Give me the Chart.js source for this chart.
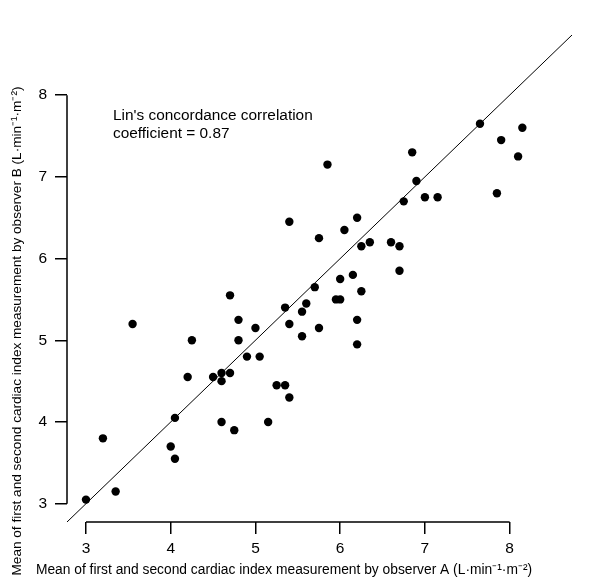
<!DOCTYPE html>
<html lang="en">
<head>
  <meta charset="UTF-8">
  <title>Cardiac index: observer A vs observer B</title>
  <script src="https://cdn.jsdelivr.net/npm/chart.js"></script>
  <style>
    body { margin: 0; background: #fff; }
    canvas { display: block; }
  </style>
</head>
<body>
  <canvas id="grafico" width="608" height="581"></canvas>
  <script>
    // mean cardiac index per patient, observer A (x) and observer B (y)
    const observerA = [3.00, 3.35, 3.20, 3.55, 4.00, 4.05, 4.05, 4.20, 4.25, 4.50,
      4.60, 4.60, 4.60, 4.70, 4.75, 4.70, 4.80, 4.80, 4.90, 5.05,
      5.00, 5.15, 5.25, 5.35, 5.40, 5.35, 5.40, 5.55, 5.55, 5.60,
      5.75, 5.70, 5.95, 6.00, 6.00, 6.15, 6.25, 6.20, 6.20, 5.75,
      5.40, 5.85, 6.05, 6.20, 6.25, 6.35, 6.60, 6.70, 6.70, 6.75,
      6.90, 6.85, 7.00, 7.15, 7.65, 7.85, 7.90, 8.10, 8.15];
    const observerB = [3.05, 3.15, 3.80, 5.20, 3.70, 3.55, 4.05, 4.55, 5.00, 4.55,
      4.60, 4.50, 4.00, 4.60, 3.90, 5.55, 5.25, 5.00, 4.80, 4.80,
      5.15, 4.00, 4.45, 4.45, 4.30, 5.40, 5.20, 5.35, 5.05, 5.45,
      5.15, 5.65, 5.50, 5.50, 5.75, 5.80, 5.60, 5.25, 4.95, 6.25,
      6.45, 7.15, 6.35, 6.50, 6.15, 6.20, 6.20, 6.15, 5.85, 6.70,
      6.95, 7.30, 6.75, 6.75, 7.65, 6.80, 7.45, 7.25, 7.60];
    const tickValues = [3, 4, 5, 6, 7, 8];
    const axisMin = 2.776;
    const axisMax = 8.736;
    const noteLines = ["Lin's concordance correlation", "coefficient = 0.87"];
    const xTitle = 'Mean of first and second cardiac index measurement by observer A (L·min⁻¹·m⁻²)';
    const yTitle = 'Mean of first and second cardiac index measurement by observer B (L·min⁻¹·m⁻²)';

    const fuente = '"Liberation Sans", Arial, sans-serif';

    const puntos = observerA.map((a, i) => ({ x: a, y: observerB[i] }));
    const identidad = [axisMin, axisMax].map(v => ({ x: v, y: v }));

    // R-style axes: line only from first to last tick, plus titles and note
    const ejesR = {
      id: 'ejesR',
      afterDraw(chart) {
        const { ctx, chartArea, scales } = chart;
        const x = scales.x, y = scales.y;
        const t0 = tickValues[0], t1 = tickValues[tickValues.length - 1];
        ctx.save();
        ctx.strokeStyle = '#000';
        ctx.lineWidth = 1.5;
        ctx.beginPath();
        ctx.moveTo(x.getPixelForValue(t0), chartArea.bottom);
        ctx.lineTo(x.getPixelForValue(t1), chartArea.bottom);
        ctx.moveTo(chartArea.left, y.getPixelForValue(t0));
        ctx.lineTo(chartArea.left, y.getPixelForValue(t1));
        ctx.stroke();

        ctx.fillStyle = '#000';
        ctx.textBaseline = 'middle';
        ctx.textAlign = 'left';
        ctx.font = '15.4px ' + fuente;
        noteLines.forEach((txt, i) => ctx.fillText(txt, 113, 116 + i * 18));

        ctx.textAlign = 'center';
        ctx.font = '13.8px ' + fuente;
        ctx.fillText(xTitle, 284, 570);
        ctx.font = '13.6px ' + fuente;
        ctx.translate(17, 331);
        ctx.rotate(-Math.PI / 2);
        ctx.fillText(yTitle, 0, 0);
        ctx.restore();
      }
    };

    const ejeComun = {
      type: 'linear',
      min: axisMin,
      max: axisMax,
      afterBuildTicks: s => { s.ticks = tickValues.map(v => ({ value: v })); },
      border: { display: false },
      grid: {
        drawOnChartArea: false,
        drawTicks: true,
        tickLength: 12,
        color: '#000',
        lineWidth: 1.5
      },
      ticks: {
        color: '#000',
        font: { family: fuente, size: 15.5 },
        maxRotation: 0
      }
    };

    new Chart(document.getElementById('grafico'), {
      data: {
        datasets: [
          {
            type: 'scatter',
            data: puntos,
            backgroundColor: '#000',
            borderWidth: 0,
            pointRadius: 4.2,
            pointHoverRadius: 4.2
          },
          {
            type: 'line',
            data: identidad,
            borderColor: '#000',
            borderWidth: 1,
            pointRadius: 0,
            fill: false
          }
        ]
      },
      options: {
        responsive: false,
        animation: false,
        layout: { padding: { top: 35, right: 36, left: 0, bottom: 0 } },
        plugins: {
          legend: { display: false },
          tooltip: { enabled: false }
        },
        scales: {
          x: Object.assign({}, ejeComun, {
            position: 'bottom',
            afterFit: s => { s.height = 59; },
            ticks: Object.assign({}, ejeComun.ticks, { padding: 5 })
          }),
          y: Object.assign({}, ejeComun, {
            position: 'left',
            afterFit: s => { s.width = 67; },
            ticks: Object.assign({}, ejeComun.ticks, { padding: 8 })
          })
        }
      },
      plugins: [ejesR]
    });
  </script>
</body>
</html>
